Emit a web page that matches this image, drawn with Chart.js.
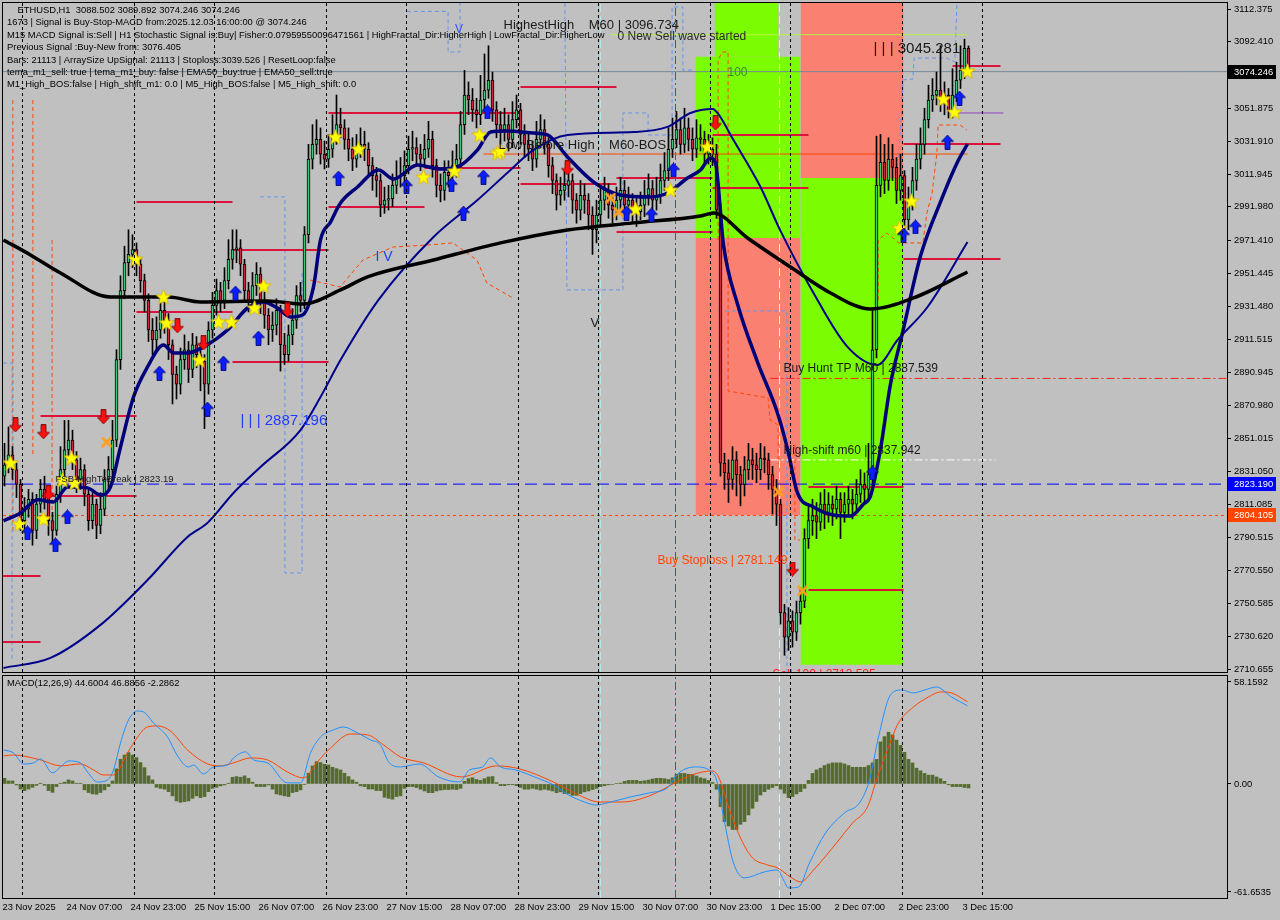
<!DOCTYPE html>
<html>
<head>
<meta charset="utf-8">
<title>ETHUSD,H1</title>
<script src="https://cdn.jsdelivr.net/npm/chart.js@4.4.0/dist/chart.umd.min.js"></script>
<style>
html, body { margin: 0; padding: 0; background: #c0c0c0; }
#wrap { position: relative; width: 1280px; height: 920px; background: #c0c0c0; overflow: hidden; }
#mainChart { position: absolute; left: 0; top: 0; }
#macdChart { position: absolute; left: 0; top: 674px; }
</style>
</head>
<body>
<div id="wrap">
  <canvas id="mainChart" width="1280" height="674"></canvas>
  <canvas id="macdChart" width="1280" height="246"></canvas>
</div>
<script>
// ===================== DATA =====================
// time axis (bar index 0 = 23 Nov 15:00, one bar per hour)
const timeLabels = ['23 Nov 2025','24 Nov 07:00','24 Nov 23:00','25 Nov 15:00','26 Nov 07:00','26 Nov 23:00',
  '27 Nov 15:00','28 Nov 07:00','28 Nov 23:00','29 Nov 15:00','30 Nov 07:00','30 Nov 23:00',
  '1 Dec 15:00','2 Dec 07:00','2 Dec 23:00','3 Dec 15:00'];
const labelBars = [0,16,32,48,64,80,96,112,128,144,160,176,192,208,224,240];
const dayLineBars = [9,33,57,81,105,129,153,177,201,225,249];

const priceTicks = [3112.375,3092.410,3071.840,3051.875,3031.910,3011.945,2991.980,2971.410,2951.445,2931.480,
  2911.515,2890.945,2870.980,2851.015,2831.050,2811.085,2790.515,2770.550,2750.585,2730.620,2710.655];
const macdTicks = [58.1592, 0, -61.6535];

// candles
const opens = [
  2828,2835,2841,2832,2823,2801,2808,2814,2795,2811, 2820,2814,2801,2795,2817,2832,2844,2850,2838,2826,
  2832,2817,2801,2811,2798,2808,2826,2832,2850,2899, 2941,2958,2963,2966,2957,2947,2935,2917,2911,2917,
  2929,2923,2908,2890,2884,2899,2905,2893,2908,2902, 2898,2884,2917,2932,2941,2935,2947,2960,2966,2967,
  2957,2941,2935,2944,2951,2935,2926,2917,2920,2929, 2908,2902,2914,2923,2938,2935,2975,3021,3030,3033,
  3024,3021,3027,3036,3042,3040,3033,3027,3021,3027, 3030,3027,3017,3011,3008,2993,2996,2997,3005,3010,
  3011,3017,3027,3028,3024,3021,3027,3033,3017,3005, 3002,3013,3011,3017,3021,3042,3060,3057,3051,3048,
  3057,3063,3069,3051,3042,3039,3042,3033,3045,3051, 3036,3030,3027,3021,3033,3039,3030,3017,3008,2999,
  3002,3005,3008,2996,2990,2999,2996,2987,2978,2987, 2996,3002,2993,2990,2996,3002,2993,2996,2990,2989,
  2993,2999,3003,2996,2999,3008,3014,3027,3033,3039, 3030,3040,3033,3027,3034,3033,3024,3027,3024,2990,
  2836,2830,2826,2838,2829,2823,2832,2838,2835,2832, 2839,2838,2829,2820,2811,2745,2730,2740,2733,2745,
  2752,2790,2801,2804,2800,2811,2806,2811,2808,2814, 2806,2811,2814,2811,2817,2823,2820,2829,2905,3005,
  3019,3008,3021,3016,3002,3011,2984,2996,3008,3021, 3030,3045,3057,3060,3063,3057,3060,3051,3060,3069,
  3075,3088.502];
const highs = [
  2848,2858,2846,2836,2826,2815,2820,2818,2817,2826, 2828,2817,2806,2822,2846,2862,2862,2856,2843,2839,
  2835,2820,2818,2814,2818,2832,2840,2862,2905,2950, 2968,2978,2975,2970,2961,2951,2939,2924,2925,2936,
  2934,2927,2911,2895,2906,2914,2910,2915,2913,2909, 2902,2922,2940,2948,2946,2955,2972,2978,2978,2972,
  2960,2946,2952,2958,2955,2940,2930,2928,2936,2932, 2915,2920,2930,2944,2946,2980,3030,3042,3045,3040,
  3032,3036,3048,3060,3052,3045,3040,3034,3036,3040, 3038,3031,3022,3016,3012,3004,3005,3012,3020,3022,
  3026,3035,3038,3034,3030,3036,3044,3038,3021,3012, 3020,3020,3026,3030,3050,3075,3068,3064,3058,3072,
  3085,3090,3074,3056,3050,3052,3048,3056,3060,3055, 3042,3037,3032,3044,3048,3045,3034,3022,3012,3010,
  3014,3018,3012,3000,3008,3006,3000,2992,2996,3004, 3010,3006,3000,3004,3010,3008,3004,3000,2997,3001,
  3008,3012,3008,3010,3018,3025,3040,3046,3050,3046, 3052,3046,3040,3045,3042,3038,3036,3034,3030,2994,
  2842,2838,2846,2843,2834,2840,2848,2845,2842,2848, 2846,2842,2834,2826,2814,2750,2748,2746,2752,2760,
  2796,2810,2814,2812,2818,2820,2818,2816,2822,2818, 2818,2822,2820,2826,2832,2830,2848,2930,3035,3036,
  3030,3034,3030,3022,3024,3014,3004,3016,3030,3040, 3052,3066,3070,3074,3090,3068,3064,3076,3080,3090,
  3094,3089.892];
const lows = [
  2822,2830,2826,2815,2795,2794,2803,2786,2790,2806, 2808,2792,2788,2792,2812,2828,2838,2832,2818,2820,
  2810,2795,2796,2790,2793,2804,2820,2828,2846,2893, 2936,2950,2955,2950,2940,2928,2910,2902,2904,2912,
  2915,2899,2872,2875,2878,2893,2885,2888,2894,2880, 2857,2878,2912,2926,2928,2930,2942,2954,2958,2950,
  2935,2928,2930,2938,2927,2918,2908,2910,2914,2892, 2896,2898,2908,2918,2928,2930,2970,3015,3024,3018,
  3015,3016,3022,3030,3034,3027,3020,3014,3016,3022, 3020,3010,3002,2998,2986,2988,2990,2992,3000,3004,
  3006,3012,3020,3018,3014,3016,3022,3010,2998,2995, 2996,3004,3006,3010,3016,3036,3048,3044,3040,3042,
  3050,3058,3044,3034,3030,3032,3026,3028,3040,3030, 3022,3020,3014,3016,3028,3024,3010,3000,2990,2993,
  2996,2998,2988,2982,2984,2988,2978,2963,2970,2980, 2990,2985,2982,2984,2990,2986,2987,2983,2980,2984,
  2986,2993,2988,2990,2994,3002,3008,3022,3028,3024, 3025,3026,3020,3022,3026,3018,3018,3017,2985,2828,
  2820,2812,2820,2816,2810,2816,2826,2826,2824,2826, 2830,2820,2805,2798,2738,2719,2722,2724,2728,2738,
  2748,2784,2792,2790,2795,2796,2800,2798,2802,2790, 2800,2804,2802,2806,2812,2812,2814,2822,2900,2998,
  3000,3002,3008,2994,2996,2975,2978,2990,3002,3015, 3024,3040,3050,3054,3050,3048,3046,3046,3056,3064,
  3070,3074.246];
const closes = [
  2835,2841,2832,2823,2801,2808,2814,2795,2811,2820, 2814,2801,2795,2817,2832,2844,2850,2838,2826,2832,
  2817,2801,2811,2798,2808,2826,2832,2850,2899,2941, 2958,2963,2966,2957,2947,2935,2917,2911,2917,2929,
  2923,2908,2890,2884,2899,2905,2893,2908,2902,2898, 2884,2917,2932,2941,2935,2947,2960,2966,2967,2957,
  2941,2935,2944,2951,2935,2926,2917,2920,2929,2908, 2902,2914,2923,2938,2935,2975,3021,3030,3033,3024,
  3021,3027,3036,3042,3040,3033,3027,3021,3027,3030, 3027,3017,3011,3008,2993,2996,2997,3005,3010,3011,
  3017,3027,3028,3024,3021,3027,3033,3017,3005,3002, 3013,3011,3017,3021,3042,3060,3057,3051,3048,3057,
  3063,3069,3051,3042,3039,3042,3033,3045,3051,3036, 3030,3027,3021,3033,3039,3030,3017,3008,2999,3002,
  3005,3008,2996,2990,2999,2996,2987,2978,2987,2996, 3002,2993,2990,2996,3002,2993,2996,2990,2989,2993,
  2999,3003,2996,2999,3008,3014,3027,3033,3039,3030, 3040,3033,3027,3034,3033,3024,3027,3024,2990,2836,
  2830,2826,2838,2829,2823,2832,2838,2835,2832,2839, 2838,2829,2820,2811,2745,2730,2740,2733,2745,2752,
  2790,2801,2804,2800,2811,2806,2811,2808,2814,2806, 2811,2814,2811,2817,2823,2820,2829,2905,3005,3019,
  3008,3021,3016,3002,3011,2984,2996,3008,3021,3030, 3045,3057,3060,3063,3057,3060,3051,3060,3069,3075,
  3088.502,3074.246];

// moving averages [bar, price]
const slowMA = [[-0.25,2971.8],[6.5,2962.7],[14,2951.7],[26.5,2937.1],[41,2937.1],[49,2934.1],[65.75,2934.7],
  [74.75,2932.8],[84,2941.4],[90.75,2949.3],[107.25,2959.6],[124,2970.0],[140.75,2977.9],[157.25,2982.2],
  [174,2986.4],[177.25,2988.2],[185.75,2973.0],[196.5,2955.3],[206.5,2939.5],[216.5,2929.8],[227.25,2936.5],[240.75,2952.3]];
const fastMA = [[-0.25,2800.8],[4,2805.6],[8.25,2813.6],[12.25,2812.3],[15.75,2821.5],[20.75,2820.9],[24,2816.6],
  [26.5,2821.5],[29,2845.8],[32.25,2876.2],[35.75,2894.5],[39.75,2907.9],[42.25,2903.0],[45.75,2903.0],[49.75,2906.7],
  [55.75,2917.0],[60.75,2930.4],[64.75,2934.1],[68.25,2930.4],[71.5,2924.9],[74.5,2926.1],[77.25,2943.2],[79,2971.8],
  [81.5,2982.7],[84,2994.3],[88.25,3004.0],[93.5,3014.4],[97.25,3008.9],[103.25,3017.4],[109,3015.0],[113.25,3016.2],
  [118.25,3026.6],[121.5,3037.5],[125.75,3038.1],[132.25,3036.9],[135.75,3035.7],[140.75,3022.3],[147.25,3007.1],
  [154,2999.2],[161.5,2998.0],[165.75,3000.4],[170.75,3009.5],[174,3014.4],[176.5,3021.7],[177.75,3018.6],
  [179.75,2968.7],[183.25,2932.8],[188.25,2897.5],[193.25,2866.5],[195.75,2844.6],[198.25,2817.8],[202.25,2809.3],
  [207.25,2804.4],[211.5,2803.8],[214.75,2811.1],[216.5,2816.0],[219,2844.6],[221.5,2884.1],[224.5,2915.2],
  [229,2962.0],[234,2995.0],[238.25,3019.3],[240.75,3030.2]];
const midMA = [[-0.25,2711.3],[11.5,2717.4],[24,2737.5],[35.75,2764.8],[45.75,2791.0],[50.75,2799.6],[57.25,2817.8],
  [64,2833.6],[74,2856.1],[79,2876.2],[84,2898.7],[93.5,2935.3],[107.25,2973.6],[118.25,2996.1],[126.5,3014.4],
  [132.25,3026.6],[140.75,3035.7],[157.25,3037.5],[165.75,3040.6],[171.5,3049.1],[177,3051.5],[178.25,3049.1],
  [182.25,3032.6],[189,3004.0],[194,2977.3],[202.25,2939.5],[210.75,2906.7],[218.25,2895.7],[223.25,2910.9],
  [230.75,2931.0],[240.75,2970.6]];

// dashed channel steps [bar, price]
const blueSteps = [
  [[223.6,3022.3],[224.4,3057.0],[224.6,3069.2],[227.1,3069.8],[227.4,3082.5],[235.6,3082.5],[237.6,3080.1],[238.1,3116.0]],
  [[100.6,3110.9],[110.9,3110.9],[110.9,3086.2],[113.9,3086.2],[113.9,3116.0]],
  [[140.1,3116.0],[140.6,2941.4],[154.6,2941.4],[154.6,3049.1],[160.9,3049.1],[160.9,3035.7],[166.9,3035.7],
   [166.9,3113.6],[169.6,3113.6],[169.6,3075.2],[172.6,3075.2]],
  [[-0.4,2896.9],[1.9,2896.9],[1.9,2716.2]],
  [[63.9,2998.0],[70.1,2998.0],[70.1,2769.1],[74.4,2769.1],[74.4,2951.7]],
  [[178.4,2928.6],[195.6,2928.6],[195.6,2708.9]]
];
const orangeSteps = [
  [[218.4,2935.3],[218.4,2971.8],[220.6,2976.0],[223.6,2970.0],[229.6,2970.0],[230.6,2988.2],[231.9,3000.4],
   [233.1,3024.7],[233.4,3041.8],[238.9,3041.8],[240.6,3038.7]],
  [[76.4,2947.4],[83.9,2943.2],[89.6,2959.6],[97.1,2967.5],[105.6,2968.7],[112.1,2970.0],[118.1,2959.6],
   [120.6,2945.6],[127.1,2936.5]],
  [[178.4,2971.8],[178.4,3081.3],[179.4,3086.2],[180.9,3086.2],[180.9,2879.9],[190.9,2875.6],[191.4,2862.2],
   [193.4,2859.2],[193.4,2835.5]],
  [[197.6,2847.0],[197.6,2789.2],[198.9,2789.2]],
  [[2.1,3057.0],[2.1,2793.5]],
  [[7.1,3057.0],[7.1,2839.7]],
  [[11.9,2971.8],[11.9,2801.4]]
];

// MACD panel
const macdHist = [
  3.2,1.7,1.7,-0.6,-2.9,-3.8,-2.9,-1.9,-0.8,0.4, -0.8,-3.8,-4.8,-1.5,0.4,1.0,2.3,1.7,0.4,0.4,
  -3.4,-4.9,-5.7,-5.9,-4.9,-3.4,-1.5,1.7,8.6,14.1, 16.5,17.9,16.5,15.0,12.2,9.3,4.6,2.3,-1.9,-2.5,
  -3.0,-4.4,-6.8,-9.7,-10.5,-10.1,-9.7,-8.2,-6.8,-7.8, -7.2,-4.4,-2.5,-1.9,-1.1,-0.6,0.4,3.8,4.2,3.8,
  4.6,3.2,1.0,-1.5,-1.5,-1.5,-0.6,-3.0,-5.7,-6.3, -6.8,-7.2,-4.9,-4.4,-3.4,-0.2,6.1,10.3,12.7,12.2,
  11.2,10.8,9.5,8.7,8.0,6.1,4.2,2.3,1.0,-1.1, -1.5,-2.9,-2.9,-3.8,-3.8,-7.6,-8.2,-8.7,-7.2,-6.8,
  -2.5,-1.5,-1.5,-2.0,-3.0,-4.0,-5.0,-5.0,-4.0,-3.5, -3.2,-3.2,-3.0,-3.2,-2.5,1.5,3.0,3.5,2.5,2.0,
  3.0,4.0,4.2,0.8,-1.0,-1.0,-0.5,-0.4,-1.0,-2.0, -3.0,-3.0,-2.5,-3.0,-3.5,-3.0,-3.5,-4.0,-5.0,-4.5,
  -5.5,-5.5,-6.5,-6.5,-5.5,-4.5,-4.0,-3.2,-2.5,-1.5, -1.0,-0.5,-0.3,0.3,0.5,1.5,2.0,2.0,2.0,1.5,
  1.8,2.2,2.8,3.2,3.2,3.0,2.5,3.5,5.5,6.0, 6.0,5.5,5.5,4.5,3.5,3.0,2.0,0.8,-3.0,-13.0,
  -21.5,-24.0,-26.0,-26.0,-23.0,-21.5,-17.7,-13.9,-10.0,-6.3, -4.4,-3.0,-2.0,-1.0,-3.0,-5.3,-7.8,-7.2,-5.7,-4.4,
  -2.5,2.0,6.0,8.0,9.0,10.5,11.4,12.0,12.0,12.0, 11.4,10.5,9.5,9.5,9.5,9.5,10.5,12.0,14.0,24.0,
  27.0,29.5,28.0,25.0,22.0,18.0,14.0,12.0,9.0,7.5, 6.0,5.0,5.0,4.0,3.0,1.5,-0.5,-1.5,-1.5,-1.5,
  -2.0,-2.2862];
const macdMain = [[-0.25,19.4],[2.25,17.7],[4.75,11.4],[7.25,12.0],[9,14.3],[12,6.3],[14,9.7],[16,13.1],[19,12.0],
  [20.75,6.8],[23.25,1.1],[25.75,2.3],[27.25,8.0],[29,23.4],[31,36.5],[33.25,41.6],[34.75,41.1],[37.25,34.8],
  [40.75,26.8],[43.25,16.0],[46,9.7],[47.25,10.8],[49.75,5.7],[52.25,9.7],[55.75,10.8],[57.25,14.8],[60.25,18.3],
  [62.25,13.7],[65.75,12.0],[70.75,0.6],[74,0.6],[76.5,17.7],[79,26.8],[82.25,30.8],[84.75,32.5],[88.25,29.1],
  [91.5,25.1],[94,22.3],[96,12.6],[99,9.7],[103.75,11.4],[108.5,4.0],[113.75,1.1],[116.25,8.0],[119.5,9.7],
  [121.5,14.8],[124,9.7],[127.75,8.0],[132.5,4.0],[137.25,-0.6],[141,-6.3],[145,-10.3],[147.75,-12.0],[150.75,-10.8],
  [156.5,-7.4],[161.25,-5.1],[166,-1.7],[168,5.1],[172.75,9.7],[176.5,7.4],[178,2.3],[179.75,-18.8],[182.25,-45.1],
  [185,-53.6],[190,-50.2],[193.25,-49.1],[194.75,-54.8],[196,-59.3],[198.5,-58.8],[201.25,-45.1],[205.25,-28.0],
  [210,-16.5],[213.75,-10.8],[216.25,2.3],[218.5,26.8],[221.5,50.8],[224.25,53.6],[227.25,51.9],[230,53.6],
  [233,55.3],[236.75,49.6],[240.75,44.6]];
const macdSignal = [[-0.25,16.0],[2.25,16.5],[9,13.7],[14,10.3],[19,11.4],[22.25,8.0],[24.75,5.1],[27.25,5.1],
  [30.75,17.7],[33.25,26.8],[35.75,32.5],[38.25,33.1],[41.5,30.2],[45.75,19.4],[50.75,11.4],[54,10.3],[57.25,12.0],
  [61.5,14.8],[65.75,13.7],[70.75,6.8],[74.75,3.4],[78.25,12.6],[81.5,20.5],[86.5,28.5],[90.75,28.0],[94.75,22.3],
  [99,15.4],[104.75,12.0],[114.25,4.0],[123,10.3],[128.75,8.6],[137.25,1.1],[143,-5.7],[148.75,-10.3],[154.5,-10.3],
  [161.25,-6.8],[168,1.1],[171.75,5.1],[177,7.4],[178.5,4.0],[181.25,-14.8],[184.25,-32.0],[187,-42.2],[190.75,-46.2],
  [193.25,-47.9],[196.5,-53.1],[199,-55.9],[202.25,-49.1],[208,-33.7],[212,-22.3],[215.75,-13.1],[218,2.3],
  [221,21.1],[223.5,34.8],[227.25,43.9],[231,49.6],[234,52.5],[236.75,51.9],[240.75,46.8856]];

// signal marks [bar, price]
const starMarks = [[1.5,2836.1],[3.75,2798.9],[9.75,2802.0],[14.5,2825.7],[16.75,2839.1],[17.5,2823.9],[32.75,2960.2],
  [39.75,2937.1],[40.5,2921.3],[48.75,2898.7],[53.5,2921.9],[56.75,2921.9],[62.5,2930.4],[64.75,2943.8],[82.75,3034.5],
  [88.5,3027.2],[104.75,3010.1],[112.5,3013.8],[118.75,3035.7],[123.25,3024.7],[124,3026.0],[157.75,2990.6],[166.5,3002.2],
  [175.75,3028.4],[223.75,2979.1],[226.75,2995.5],[234.75,3057.6],[237.5,3049.7],[240.75,3074.6]];
const upArrows = [[5.75,2793.5],[12.75,2786.2],[15.75,2803.2],[38.75,2890.8],[50.75,2868.9],[54.75,2896.9],[57.75,2939.5],
  [63.5,2912.1],[83.5,3009.5],[100.5,3004.6],[111.75,3005.3],[114.75,2988.2],[119.75,3010.1],[120.75,3049.7],[155.5,2988.2],
  [161.75,2987.0],[167.25,3014.4],[217,2830.0],[224.75,2974.8],[227.75,2979.7],[235.75,3031.4],[238.75,3058.2]];
const downArrows = [[2.75,2859.2],[9.75,2855.0],[11,2817.8],[24.75,2864.1],[43.25,2919.5],[49.75,2909.1],[70.75,2929.2],
  [140.75,3015.6],[177.75,3043.0],[197,2771.5]];
const crossMarks = [[25.5,2848.8],[151.5,2997.3],[153.5,2988.8],[193.5,2818.4],[199.5,2758.2]];

// level segments [fromBar, toBar, price]
const redLevels = [[9,33,2864.7],[9,33,2816.0],[-0.5,9,2767.3],[-0.5,9,2727.1],[33,57,2994.9],[33,57,2928.0],
  [57,81,2965.7],[57,81,2897.5],[81,129,3049.1],[81,105,2991.9],[105,129,3015.6],[129,153,3064.9],[129,153,3005.9],
  [153,177,3009.5],[153,177,2976.7],[177,201,3035.7],[177,201,3003.4],[201,224.75,2821.5],[201,224.75,2758.8],
  [224.75,249,3030.2],[224.75,249,2960.2],[237,249,3077.7]];

// colour zones [fromBar, toBar, bottom, top]
const greenZones = [[177.5,193.5,3083.3,3117],[172.75,199,2973.0,3083.3],[199,224.75,2713.2,3009.5]];
const salmonZones = [[172.75,199,2804.4,2973.0],[199,224.75,3009.5,3117]];

// chart texts [bar, price, text, colour, size]
const chartTexts = [
  [124.75,3102.6,'HighestHigh    M60 | 3096.734','#1a1a1a','13px'],
  [153.25,3095.3,'0 New Sell wave started','#2a2a2a','12px'],
  [217.25,3088.0,'| | | 3045.281','#1a1a1a','15px'],
  [59,2861.6,'| | | 2887.196','#1e3cff','15px'],
  [92.75,2961.4,'I V','#1e3cff','14px'],
  [146.5,2921.3,'V','#1a1a1a','13px'],
  [112.6,3099.6,'V','#3050ff','12px'],
  [123.5,3029.6,'Low Before High    M60-BOS','#1a1a1a','13px'],
  [180.75,3073.4,'100','#3a8a3a','12px'],
  [194.75,2893.3,'Buy Hunt TP M60 | 2887.539','#1a1a1a','12px'],
  [194.75,2843.4,'High-shift m60 | 2837.942','#1a1a1a','12px'],
  [163.25,2776.4,'Buy Stoploss | 2781.149','#ff4500','12px'],
  [12.75,2826.3,'FSB-HighToBreak | 2823.19','#1a1a1a','9.5px'],
  [192,2707.0,'Sell 100 | 2713.585','#ff2020','12px']
];
const infoLines = [
  '    ETHUSD,H1  3088.502 3089.892 3074.246 3074.246',
  '1673 | Signal is Buy-Stop-MACD from:2025.12.03 16:00:00 @ 3074.246',
  'M15 MACD Signal is:Sell | H1 Stochastic Signal is:Buy| Fisher:0.07959550096471561 | HighFractal_Dir:HigherHigh | LowFractal_Dir:HigherLow',
  'Previous Signal :Buy-New from: 3076.405',
  'Bars: 21113 | ArraySize UpSignal: 21113 | Stoploss:3039.526 | ResetLoop:false',
  'tema_m1_sell: true | tema_m1_buy: false | EMA50_buy:true | EMA50_sell:true',
  'M1_High_BOS:false | High_shift_m1: 0.0 | M5_High_BOS:false | M5_High_shift: 0.0'
];
const macdTitle = 'MACD(12,26,9) 44.6004 46.8856 -2.2862';

// price tags on the right axis
const priceTags = [[3074.246,'#000000','#ffffff'],[2823.190,'#0000ff','#ffffff'],[2804.105,'#ff4500','#ffffff']];

// ===================== HELPERS =====================
const X_MIN = -0.375, X_MAX = 305.625;
const Y_MIN = 2708.83, Y_MAX = 3116.03;
const M_MIN = -65.08, M_MAX = 61.58;
const FONT = "'Liberation Sans', Arial, sans-serif";
const SMALL = 9.4;

Chart.defaults.font.family = FONT;
Chart.defaults.font.size = SMALL;
Chart.defaults.color = '#000';

function pts(arr) { return arr.map(p => ({ x: p[0], y: p[1] })); }

function hLine(x0, x1, y, color, width, dash) {
    return { type: 'line', data: [{ x: x0, y: y }, { x: x1, y: y }], borderColor: color, borderWidth: width,
        borderDash: dash || [], pointRadius: 0, fill: false, order: 5 };
}
function vLine(x, y0, y1, color, dash) {
    return { type: 'line', data: [{ x: x, y: y0 }, { x: x, y: y1 }], borderColor: color, borderWidth: 1,
        borderDash: dash || [], pointRadius: 0, fill: false, order: 8 };
}
function stepLine(path, color) {
    return { type: 'line', data: pts(path), borderColor: color, borderWidth: 1, borderDash: [4, 3],
        pointRadius: 0, fill: false, tension: 0, order: 9 };
}

function makeStar() {
    const c = document.createElement('canvas');
    c.width = 17; c.height = 17;
    const g = c.getContext('2d');
    g.beginPath();
    for (let k = 0; k < 10; k++) {
        const r = k % 2 ? 3.4 : 8;
        const a = -Math.PI / 2 + k * Math.PI / 5;
        g.lineTo(8.5 + r * Math.cos(a), 9 + r * Math.sin(a));
    }
    g.closePath();
    g.fillStyle = '#ffff00';
    g.fill();
    g.strokeStyle = '#d8b400';
    g.lineWidth = 0.8;
    g.stroke();
    return c;
}
function makeArrow(color, up) {
    const c = document.createElement('canvas');
    c.width = 13; c.height = 15;
    const g = c.getContext('2d');
    if (!up) { g.translate(0, 15); g.scale(1, -1); }
    g.beginPath();
    g.moveTo(6.5, 0.5); g.lineTo(12.5, 7); g.lineTo(9, 7); g.lineTo(9, 14.5);
    g.lineTo(4, 14.5); g.lineTo(4, 7); g.lineTo(0.5, 7); g.closePath();
    g.fillStyle = color; g.fill();
    g.strokeStyle = up ? '#00006a' : '#7a0000'; g.lineWidth = 0.8; g.stroke();
    return c;
}
function makeCross() {
    const c = document.createElement('canvas');
    c.width = 11; c.height = 11;
    const g = c.getContext('2d');
    g.strokeStyle = '#ffa020'; g.lineWidth = 2.6; g.lineCap = 'round';
    g.beginPath(); g.moveTo(1.5, 1.5); g.lineTo(9.5, 9.5); g.moveTo(9.5, 1.5); g.lineTo(1.5, 9.5); g.stroke();
    return c;
}

function markSet(arr, img) {
    return { type: 'line', data: pts(arr), showLine: false, pointStyle: img, pointRadius: 7, order: 0 };
}

function buildXTicks(scale) {
    const vals = Array.from(new Set(labelBars.concat(dayLineBars))).sort((a, b) => a - b);
    scale.ticks = vals.map(v => ({ value: v }));
}
function xGrid(ctx) {
    return ctx.tick && dayLineBars.includes(ctx.tick.value) ? '#000000' : 'rgba(0,0,0,0)';
}
function fitRight(scale) {
    scale.width = 53;
    scale.paddingTop = 0; scale.paddingBottom = 0;
}

// frame around the plotting area
const framePlugin = {
    id: 'frame',
    afterDraw(chart) {
        const a = chart.chartArea, ctx = chart.ctx;
        ctx.save();
        ctx.strokeStyle = '#000';
        ctx.lineWidth = 1;
        ctx.strokeRect(a.left - 0.5, a.top - 0.5, a.right - a.left + 1, a.bottom - a.top + 1);
        ctx.restore();
    }
};

// texts, tags and header on the price panel
const mainTextPlugin = {
    id: 'mainTexts',
    afterDatasetsDraw(chart) {
        const ctx = chart.ctx, xs = chart.scales.x, ys = chart.scales.y, a = chart.chartArea;
        ctx.save();
        ctx.beginPath();
        ctx.rect(a.left, a.top, a.right - a.left, a.bottom - a.top);
        ctx.clip();
        ctx.textBaseline = 'middle';
        chartTexts.forEach(t => {
            ctx.font = t[4] + ' ' + FONT;
            ctx.fillStyle = t[3];
            ctx.fillText(t[2], xs.getPixelForValue(t[0]), ys.getPixelForValue(t[1]));
        });
        ctx.font = SMALL + 'px ' + FONT;
        ctx.fillStyle = '#000';
        const lineY = [10, 22, 35, 47, 60, 72, 84];
        infoLines.forEach((s, k) => ctx.fillText(s, 7, lineY[k]));
        ctx.restore();
    },
    afterDraw(chart) {
        const ctx = chart.ctx, ys = chart.scales.y, a = chart.chartArea;
        ctx.save();
        ctx.font = SMALL + 'px ' + FONT;
        ctx.textBaseline = 'middle';
        priceTags.forEach(t => {
            const y = Math.round(ys.getPixelForValue(t[0]));
            ctx.fillStyle = t[1];
            ctx.fillRect(a.right + 1, y - 7, 48, 14);
            ctx.fillStyle = t[2];
            ctx.fillText(t[0].toFixed(3), a.right + 7, y);
        });
        ctx.restore();
    }
};
const macdTextPlugin = {
    id: 'macdTexts',
    afterDraw(chart) {
        const ctx = chart.ctx;
        ctx.save();
        ctx.font = SMALL + 'px ' + FONT;
        ctx.fillStyle = '#000';
        ctx.textBaseline = 'middle';
        ctx.fillText(macdTitle, 7, 9);
        ctx.restore();
    }
};

// ===================== PRICE CHART =====================
const starImg = makeStar();
const upImg = makeArrow('#0a1eff', true);
const downImg = makeArrow('#ff1010', false);
const crossImg = makeCross();

const mainSets = [];
greenZones.forEach(z => mainSets.push({ type: 'line', data: [{ x: z[0], y: z[3] }, { x: z[1], y: z[3] }],
    borderWidth: 0, pointRadius: 0, backgroundColor: '#7cfc00', fill: { value: z[2] }, order: 20 }));
salmonZones.forEach(z => mainSets.push({ type: 'line', data: [{ x: z[0], y: z[3] }, { x: z[1], y: z[3] }],
    borderWidth: 0, pointRadius: 0, backgroundColor: '#fa8072', fill: { value: z[2] }, order: 20 }));

// channel steps
blueSteps.forEach(s => mainSets.push(stepLine(s, '#6495ed')));
orangeSteps.forEach(s => mainSets.push(stepLine(s, '#ff4500')));

// vertical markers
mainSets.push(vLine(149, Y_MIN, Y_MAX, '#b0e8f0', [8, 4]));
mainSets.push(vLine(193.75, Y_MIN, Y_MAX, '#d8f4f8', [8, 4]));
mainSets.push(vLine(167.75, Y_MIN, Y_MAX, '#c0168a', [8, 3, 2, 3]));

// horizontal levels
redLevels.forEach(l => mainSets.push(hLine(l[0], l[1], l[2], '#dc143c', 2)));
mainSets.push(hLine(119.75, 240.75, 3024.1, '#ff4500', 1));
mainSets.push(hLine(151.5, 240.75, 3096.734, '#b8f040', 1));
mainSets.push(hLine(237.75, 249.75, 3049.1, '#9040c0', 1));
mainSets.push(hLine(X_MIN, X_MAX, 3074.246, '#778899', 1));
mainSets.push(hLine(X_MIN, X_MAX, 2823.19, '#0000ff', 1, [12, 6]));
mainSets.push(hLine(X_MIN, X_MAX, 2804.105, '#ff4500', 1, [3, 3]));
mainSets.push(hLine(191.5, X_MAX, 2887.539, '#ff2020', 1, [8, 3, 2, 3]));
mainSets.push(hLine(191.5, 247.75, 2837.942, '#ffffff', 1, [8, 3, 2, 3]));

// candles
mainSets.push({ type: 'bar', data: opens.map((o, i) => ({ x: i, y: [lows[i], highs[i]] })),
    backgroundColor: '#000', barThickness: 1, grouped: false, order: 4 });
mainSets.push({ type: 'bar', data: opens.map((o, i) => ({ x: i, y: [o, closes[i]] })),
    backgroundColor: opens.map((o, i) => closes[i] >= o ? '#3ccb74' : '#c8283c'),
    borderColor: '#000', borderWidth: 1, borderSkipped: false, barThickness: 3, grouped: false, order: 3 });

// moving averages
mainSets.push({ type: 'line', data: pts(slowMA), borderColor: '#000000', borderWidth: 3.5, pointRadius: 0,
    cubicInterpolationMode: 'monotone', fill: false, order: 2 });
mainSets.push({ type: 'line', data: pts(midMA), borderColor: '#00008b', borderWidth: 2, pointRadius: 0,
    cubicInterpolationMode: 'monotone', fill: false, order: 2 });
mainSets.push({ type: 'line', data: pts(fastMA), borderColor: '#00007a', borderWidth: 3.5, pointRadius: 0,
    cubicInterpolationMode: 'monotone', fill: false, order: 2 });

// signals
mainSets.push(markSet(crossMarks, crossImg));
mainSets.push(markSet(upArrows, upImg));
mainSets.push(markSet(downArrows, downImg));
mainSets.push(markSet(starMarks, starImg));

new Chart(document.getElementById('mainChart'), {
    type: 'bar',
    data: { datasets: mainSets },
    plugins: [mainTextPlugin, framePlugin],
    options: {
        responsive: false,
        animation: false,
        events: [],
        layout: { autoPadding: false, padding: { left: 3, top: 3, right: 0, bottom: 2 } },
        plugins: { legend: { display: false }, tooltip: { enabled: false } },
        scales: {
            x: {
                type: 'linear', min: X_MIN, max: X_MAX, offset: false,
                afterBuildTicks: buildXTicks,
                afterFit: s => { s.height = 0; s.paddingLeft = 0; s.paddingRight = 0; },
                ticks: { display: false, autoSkip: false },
                grid: { color: xGrid, drawTicks: false, z: 1 },
                border: { display: false, dash: [3, 3] }
            },
            y: {
                position: 'right', min: Y_MIN, max: Y_MAX,
                afterBuildTicks: s => { s.ticks = priceTicks.map(v => ({ value: v })); },
                afterFit: fitRight,
                ticks: { autoSkip: false, padding: 3, color: '#000', font: { size: SMALL },
                    callback: v => v.toFixed(3) },
                grid: { drawOnChartArea: false, drawTicks: true, tickLength: 4, tickColor: '#000' },
                border: { color: '#000' }
            }
        }
    }
});

// ===================== MACD CHART =====================
const macdSets = [
    vLine(149, M_MIN, M_MAX, '#b0e8f0', [8, 4]),
    vLine(193.75, M_MIN, M_MAX, '#d8f4f8', [8, 4]),
    vLine(167.75, M_MIN, M_MAX, '#c0168a', [8, 3, 2, 3]),
    { type: 'bar', data: macdHist.map((v, i) => ({ x: i, y: v })), backgroundColor: '#556b2f',
      barThickness: 3, grouped: false, order: 3 },
    { type: 'line', data: pts(macdMain), borderColor: '#1e90ff', borderWidth: 1, pointRadius: 0,
      cubicInterpolationMode: 'monotone', fill: false, order: 1 },
    { type: 'line', data: pts(macdSignal), borderColor: '#ff4500', borderWidth: 1, pointRadius: 0,
      cubicInterpolationMode: 'monotone', fill: false, order: 2 }
];

new Chart(document.getElementById('macdChart'), {
    type: 'bar',
    data: { datasets: macdSets },
    plugins: [macdTextPlugin, framePlugin],
    options: {
        responsive: false,
        animation: false,
        events: [],
        layout: { autoPadding: false, padding: { left: 3, top: 2, right: 0, bottom: 0 } },
        plugins: { legend: { display: false }, tooltip: { enabled: false } },
        scales: {
            x: {
                type: 'linear', min: X_MIN, max: X_MAX, offset: false,
                afterBuildTicks: buildXTicks,
                afterFit: s => { s.height = 22; s.paddingLeft = 0; s.paddingRight = 0; },
                ticks: { autoSkip: false, maxRotation: 0, align: 'start', padding: 4, labelOffset: -2,
                    color: '#000', font: { size: SMALL },
                    callback: v => { const k = labelBars.indexOf(v); return k >= 0 ? timeLabels[k] : ''; } },
                grid: { color: xGrid, drawTicks: false, z: 1 },
                border: { display: false, dash: [3, 3] }
            },
            y: {
                position: 'right', min: M_MIN, max: M_MAX,
                afterBuildTicks: s => { s.ticks = macdTicks.map(v => ({ value: v })); },
                afterFit: fitRight,
                ticks: { autoSkip: false, padding: 3, color: '#000', font: { size: SMALL },
                    callback: v => v === 0 ? '0.00' : String(v) },
                grid: { drawOnChartArea: false, drawTicks: true, tickLength: 4, tickColor: '#000' },
                border: { color: '#000' }
            }
        }
    }
});
</script>
</body>
</html>
